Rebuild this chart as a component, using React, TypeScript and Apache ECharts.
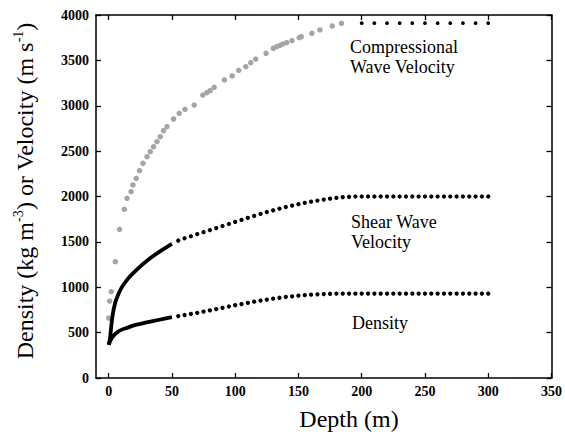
import React, { useEffect, useRef } from "react";
import * as echarts from "echarts";

// ---- axis ticks ----
const xTickValues = [0, 50, 100, 150, 200, 250, 300, 350];

// ---- Compressional wave velocity (grey measured points) ----
const compDepth = [0, 0.8, 2.1, 5.3, 8.6, 12.4, 14.5, 17.7, 19.2, 21.8, 24.4, 27.1, 30.3, 32.9, 35.5, 38.2, 40.8, 43.4, 46.1, 51.3, 55.8, 60.3, 67.6, 74.4, 77.6, 80.2, 83.4, 91.5, 97.6, 102.8, 108.4, 112.3, 116.2, 124.4, 130.1, 132.8, 135.4, 137.5, 140.7, 144.9, 150.6, 152.2, 160.6, 167, 176.7, 184];
const compVelocity = [660, 848, 951, 1282, 1639, 1859, 1980, 2053, 2127, 2200, 2284, 2366, 2439, 2494, 2549, 2604, 2659, 2725, 2769, 2854, 2917, 2961, 3008, 3118, 3144, 3166, 3203, 3284, 3328, 3391, 3430, 3474, 3515, 3578, 3633, 3651, 3666, 3680, 3695, 3717, 3750, 3761, 3798, 3835, 3879, 3909];

// ---- Compressional wave velocity (black tail points) ----
const compTailDepth = [200, 210, 220, 230, 240, 250, 260, 270, 280, 290, 300];
const compTailVelocity = [3910, 3910, 3910, 3910, 3910, 3910, 3910, 3910, 3910, 3910, 3910];

// ---- Shear wave velocity: dense near-surface part ----
const shearDenseDepth = [0, 1, 2, 3, 5, 7, 10, 15, 20, 30, 40, 50];
const shearDenseVelocity = [368, 430, 560, 680, 820, 900, 990, 1090, 1165, 1290, 1390, 1478];

// ---- Density: dense near-surface part ----
const densityDenseDepth = [0, 1, 3, 6, 10, 15, 20, 30, 40, 50];
const densityDenseValue = [365, 400, 450, 495, 530, 555, 580, 612, 642, 670];

// ---- Dotted deeper part (shared depths) ----
const dotDepth = [55, 60, 65, 70, 75, 80, 85, 90, 95, 100, 105, 110, 115, 120, 125, 130, 135, 140, 145, 150, 155, 160, 165, 170, 175, 180, 185, 190, 195, 200, 205, 210, 215, 220, 225, 230, 235, 240, 245, 250, 255, 260, 265, 270, 275, 280, 285, 290, 295, 300];
const shearDotVelocity = [1515, 1540, 1562, 1585, 1607, 1630, 1652, 1675, 1697, 1720, 1742, 1764, 1786, 1808, 1829, 1848, 1867, 1884, 1900, 1915, 1930, 1943, 1955, 1966, 1976, 1985, 1992, 1997, 2000, 2000, 2000, 2000, 2000, 2000, 2000, 2000, 2000, 2000, 2000, 2000, 2000, 2000, 2000, 2000, 2000, 2000, 2000, 2000, 2000, 2000];
const densityDotValue = [682, 694, 706, 718, 731, 745, 759, 773, 788, 802, 815, 828, 841, 853, 864, 874, 884, 893, 900, 907, 913, 918, 922, 925, 928, 930, 930, 930, 930, 930, 930, 930, 930, 930, 930, 930, 930, 930, 930, 930, 930, 930, 930, 930, 930, 930, 930, 930, 930, 930];

// ---- annotation texts ----
const annotationLines = ["Compressional", "Wave Velocity", "Shear Wave", "Velocity", "Density"];

const zip = (xs: number[], ys: number[]) => xs.map((x, i) => [x, ys[i]]);

const FONT = "Liberation Serif, Times New Roman, serif";

export default function App() {
  const ref = useRef<HTMLDivElement>(null);

  useEffect(() => {
    if (!ref.current) return;
    const chart = echarts.init(ref.current, undefined, { renderer: "svg" });

    const axisLine = { show: true, onZero: false, lineStyle: { color: "#000", width: 1.5 } };
    const tickStyle = { lineStyle: { color: "#000", width: 1.3 } };
    const plain = (v: number) => String(v);

    const option: any = {
      animation: false,
      backgroundColor: "#fff",
      textStyle: { fontFamily: FONT },
      grid: { left: 96, right: 13, top: 15, bottom: 61, containLabel: false },
      xAxis: [
        {
          type: "value",
          min: -10,
          max: 350,
          position: "bottom",
          axisLine,
          axisTick: { show: true, inside: true, length: 5, customValues: xTickValues, ...tickStyle },
          axisLabel: {
            customValues: xTickValues,
            formatter: plain,
            color: "#000",
            fontFamily: FONT,
            fontSize: 14,
            fontWeight: "bold",
            margin: 6,
          },
          splitLine: { show: false },
        },
        {
          type: "value",
          min: -10,
          max: 350,
          position: "top",
          axisLine,
          axisTick: { show: true, inside: true, length: 5, customValues: xTickValues, ...tickStyle },
          axisLabel: { show: false },
          splitLine: { show: false },
        },
      ],
      yAxis: [
        {
          type: "value",
          min: 0,
          max: 4000,
          interval: 500,
          position: "left",
          axisLine,
          axisTick: { show: true, inside: true, length: 5, ...tickStyle },
          axisLabel: {
            formatter: plain,
            color: "#000",
            fontFamily: FONT,
            fontSize: 14,
            fontWeight: "bold",
            margin: 7,
          },
          splitLine: { show: false },
        },
        {
          type: "value",
          min: 0,
          max: 4000,
          interval: 500,
          position: "right",
          axisLine,
          axisTick: { show: true, inside: true, length: 5, ...tickStyle },
          axisLabel: { show: false },
          splitLine: { show: false },
        },
      ],
      series: [
        {
          name: "Compressional Wave Velocity",
          type: "scatter",
          data: zip(compDepth, compVelocity),
          symbol: "circle",
          symbolSize: 5.5,
          itemStyle: { color: "#a5a5a5", opacity: 1 },
        },
        {
          name: "Compressional Wave Velocity (tail)",
          type: "scatter",
          data: zip(compTailDepth, compTailVelocity),
          symbol: "circle",
          symbolSize: 3.8,
          itemStyle: { color: "#000", opacity: 1 },
        },
        {
          name: "Shear Wave Velocity (near surface)",
          type: "line",
          data: zip(shearDenseDepth, shearDenseVelocity),
          smooth: 0.3,
          showSymbol: false,
          lineStyle: { color: "#000", width: 3.8 },
        },
        {
          name: "Shear Wave Velocity",
          type: "scatter",
          data: zip(dotDepth, shearDotVelocity),
          symbol: "circle",
          symbolSize: 4.3,
          itemStyle: { color: "#000", opacity: 1 },
        },
        {
          name: "Density (near surface)",
          type: "line",
          data: zip(densityDenseDepth, densityDenseValue),
          smooth: 0.3,
          showSymbol: false,
          lineStyle: { color: "#000", width: 3.8 },
        },
        {
          name: "Density",
          type: "scatter",
          data: zip(dotDepth, densityDotValue),
          symbol: "circle",
          symbolSize: 4.3,
          itemStyle: { color: "#000", opacity: 1 },
        },
      ],
      graphic: [
        {
          type: "text",
          x: 25,
          y: 191,
          rotation: Math.PI / 2,
          style: {
            text: "{n|Density (kg m}{s|-3}{n|) or Velocity (m s}{s|-1}{n|)}",
            align: "center",
            verticalAlign: "middle",
            fill: "#000",
            rich: {
              n: { fontFamily: FONT, fontSize: 24, fill: "#000", lineHeight: 28 },
              s: { fontFamily: FONT, fontSize: 14, fill: "#000", lineHeight: 28, padding: [0, 0, 14, 0] },
            },
          },
        },
        {
          type: "text",
          x: 349,
          y: 419,
          style: {
            text: "Depth (m)",
            fontFamily: FONT,
            fontSize: 24,
            fill: "#000",
            align: "center",
            verticalAlign: "middle",
          },
        },
        ...[
          [annotationLines[0], 350, 47],
          [annotationLines[1], 350, 67],
          [annotationLines[2], 351, 222],
          [annotationLines[3], 351, 242],
          [annotationLines[4], 352, 323],
        ].map(([t, x, y]) => ({
          type: "text",
          x,
          y,
          style: {
            text: t,
            fontFamily: FONT,
            fontSize: 18,
            fill: "#000",
            align: "left",
            verticalAlign: "middle",
          },
        })),
      ],
    };

    chart.setOption(option);
    return () => chart.dispose();
  }, []);

  return (
    <div
      ref={ref}
      style={{ position: "fixed", left: 0, top: 0, width: 565, height: 439, background: "#fff" }}
    />
  );
}
